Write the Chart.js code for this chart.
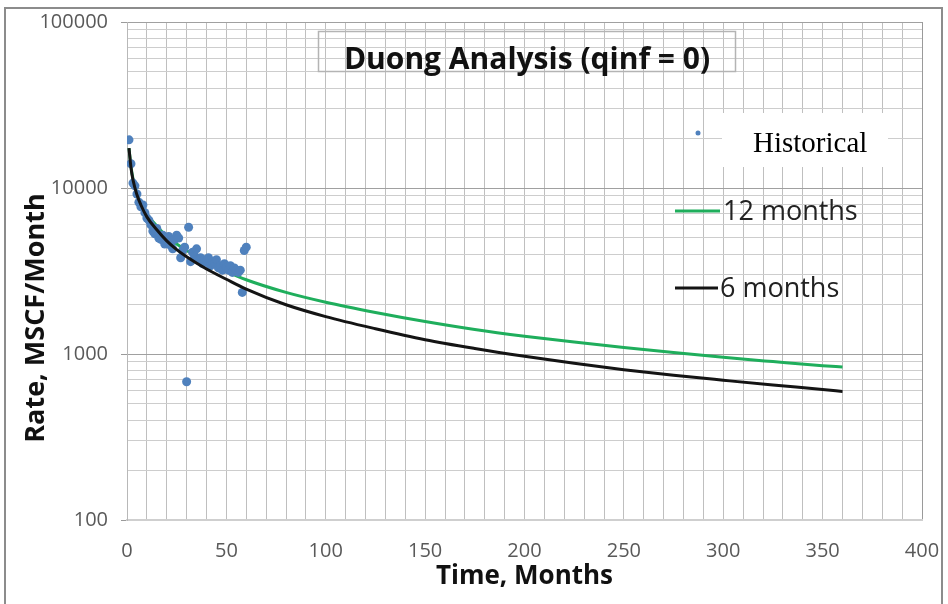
<!DOCTYPE html>
<html>
<head>
<meta charset="utf-8">
<title>Duong Analysis</title>
<script src="https://cdn.jsdelivr.net/npm/chart.js@4.4.1/dist/chart.umd.min.js"></script>
<style>
  html, body { margin: 0; padding: 0; background: #fff; }
  #wrap { width: 948px; height: 604px; }
</style>
</head>
<body>
<div id="wrap"><canvas id="duongChart" width="948" height="604"></canvas></div>
<script>
// historical monthly rates
const histMonths = [1,2,3,4,5,6,7,8,9,10,11,12,13,14,15,16,17,18,19,20,
                    21,22,23,24,25,26,27,28,29,30,31,32,33,34,35,36,37,38,39,40,
                    41,42,43,44,45,46,47,48,49,50,51,52,53,54,55,56,57,58,59,60];
const histRate = [19500,14000,10700,10300,9200,8200,7700,7900,7100,6600,
                  6400,6000,5500,5300,5700,5000,4900,5200,4600,4800,
                  5100,4500,4300,4900,5200,5000,3800,4200,4400,680,
                  5800,3600,4100,3900,4300,3700,3800,3500,3700,3600,
                  3800,3400,3600,3500,3700,3300,3400,3200,3500,3300,
                  3200,3400,3100,3300,3200,3100,3200,2350,4200,4400];

// Duong forecasts (fit on last 12 / 6 months)
const fitMonths = [1,2,3,5,7,10,15,20,25,30,40,50,60,80,100,125,150,175,200,225,250,275,300,325,350,360];
const rate12 = [17400,13500,11400,9300,8100,7000,5900,5100,4600,4200,3600,3150,2800,2350,2050,1780,1570,1405,1280,1180,1095,1020,955,900,850,835];
const rate6  = [17400,13300,11200,9100,7900,6700,5600,4800,4250,3850,3250,2820,2460,1980,1680,1420,1220,1080,970,880,805,745,695,650,612,595];

// axes
const yGridValues = [100,200,300,400,500,600,700,800,900,
                     1000,2000,3000,4000,5000,6000,7000,8000,9000,
                     10000,20000,30000,40000,50000,60000,70000,80000,90000,100000];
const yLabels = [100,1000,10000,100000];
const xLabels = [0,50,100,150,200,250,300,350,400];
const xGridStep = 10;

const GREEN = '#1fae5c';
const BLACK = '#141414';
const BLUE = '#4f81bd';

function toPoints(xs, ys) {
    return xs.map((x, i) => ({x: x, y: ys[i]}));
}

// title box, legend, y title and outer frame
const decor = {
    id: 'decor',
    afterDraw(chart) {
        const ctx = chart.ctx;
        ctx.save();

        // frame
        ctx.strokeStyle = '#8c8c8c';
        ctx.lineWidth = 2;
        ctx.strokeRect(5, 8, 937, 605);

        // title box
        ctx.strokeStyle = '#b4b4b4';
        ctx.lineWidth = 1.5;
        ctx.strokeRect(318.5, 31.5, 417, 40);
        ctx.fillStyle = '#111';
        ctx.font = 'bold 30px "Open Sans"';
        ctx.textAlign = 'center';
        ctx.textBaseline = 'middle';
        ctx.fillText('Duong Analysis (qinf = 0)', 527, 60);

        // y axis title
        ctx.save();
        ctx.translate(36, 318);
        ctx.rotate(-Math.PI / 2);
        ctx.font = 'bold 27px "Open Sans"';
        ctx.fillText('Rate, MSCF/Month', 0, 0);
        ctx.restore();

        // legend: Historical
        ctx.fillStyle = BLUE;
        ctx.beginPath();
        ctx.arc(698, 133, 2.5, 0, Math.PI * 2);
        ctx.fill();
        ctx.fillStyle = '#fff';
        ctx.fillRect(722, 113, 166, 54);
        ctx.fillStyle = '#000';
        ctx.textAlign = 'left';
        ctx.textBaseline = 'alphabetic';
        ctx.font = '29px "Liberation Serif"';
        ctx.fillText('Historical', 753, 152);

        // legend: fitted lines
        ctx.lineWidth = 3;
        ctx.strokeStyle = GREEN;
        ctx.beginPath(); ctx.moveTo(675, 211); ctx.lineTo(720, 211); ctx.stroke();
        ctx.strokeStyle = BLACK;
        ctx.beginPath(); ctx.moveTo(675, 288); ctx.lineTo(718, 288); ctx.stroke();
        ctx.fillStyle = '#222';
        ctx.textBaseline = 'middle';
        ctx.font = '27px "Open Sans"';
        ctx.fillText('12 months', 723, 212);
        ctx.fillText('6 months', 720, 289);

        ctx.restore();
    }
};

const ctx = document.getElementById('duongChart');
new Chart(ctx, {
    type: 'scatter',
    data: {
        datasets: [
            {
                type: 'line',
                label: '6 months',
                data: toPoints(fitMonths, rate6),
                borderColor: BLACK,
                borderWidth: 3,
                pointRadius: 0,
                cubicInterpolationMode: 'monotone',
                order: 0
            },
            {
                label: 'Historical',
                data: toPoints(histMonths, histRate),
                backgroundColor: BLUE,
                borderWidth: 0,
                pointRadius: 4.5,
                order: 1
            },
            {
                type: 'line',
                label: '12 months',
                data: toPoints(fitMonths, rate12),
                borderColor: GREEN,
                borderWidth: 3,
                pointRadius: 0,
                cubicInterpolationMode: 'monotone',
                order: 2
            }
        ]
    },
    options: {
        responsive: false,
        animation: false,
        layout: {
            padding: {top: 22, right: 26, left: 0, bottom: 0}
        },
        scales: {
            x: {
                type: 'linear',
                min: 0,
                max: 400,
                afterBuildTicks: (scale) => {
                    const t = [];
                    for (let v = 0; v <= 400; v += xGridStep) t.push({value: v});
                    scale.ticks = t;
                },
                afterFit: (scale) => {
                    scale.height = 84;
                    scale.paddingLeft = 0;
                    scale.paddingRight = 0;
                },
                ticks: {
                    autoSkip: false,
                    maxRotation: 0,
                    padding: 19,
                    color: '#595959',
                    font: {family: 'Open Sans', size: 20},
                    callback: (v) => xLabels.includes(v) ? String(v) : ''
                },
                grid: {
                    drawTicks: false,
                    color: (c) => c.tick && c.tick.value === 400 ? '#9a9a9a' : '#bfbfbf'
                },
                border: {color: '#cfcfcf', width: 2},
                title: {
                    display: true,
                    text: 'Time, Months',
                    color: '#111',
                    font: {family: 'Open Sans', size: 26, weight: 'bold'},
                    padding: {top: 0, bottom: 12}
                }
            },
            y: {
                type: 'logarithmic',
                min: 100,
                max: 100000,
                afterBuildTicks: (scale) => {
                    scale.ticks = yGridValues.map(v => ({value: v}));
                },
                afterFit: (scale) => {
                    scale.width = 127;
                    scale.paddingTop = 0;
                    scale.paddingBottom = 0;
                },
                ticks: {
                    autoSkip: false,
                    padding: 13,
                    color: '#595959',
                    font: {family: 'Open Sans', size: 20},
                    callback: (v) => yLabels.includes(v) ? String(v) : ''
                },
                grid: {
                    tickLength: 6,
                    color: (c) => c.tick && yLabels.includes(c.tick.value) ? '#a0a0a0' : '#cdcdcd',
                    tickColor: (c) => c.tick && yLabels.includes(c.tick.value) ? '#9a9a9a' : 'rgba(0,0,0,0)'
                },
                border: {color: '#b8b8b8', width: 1}
            }
        },
        plugins: {
            legend: {display: false},
            tooltip: {enabled: false}
        }
    },
    plugins: [decor]
});
</script>
</body>
</html>
